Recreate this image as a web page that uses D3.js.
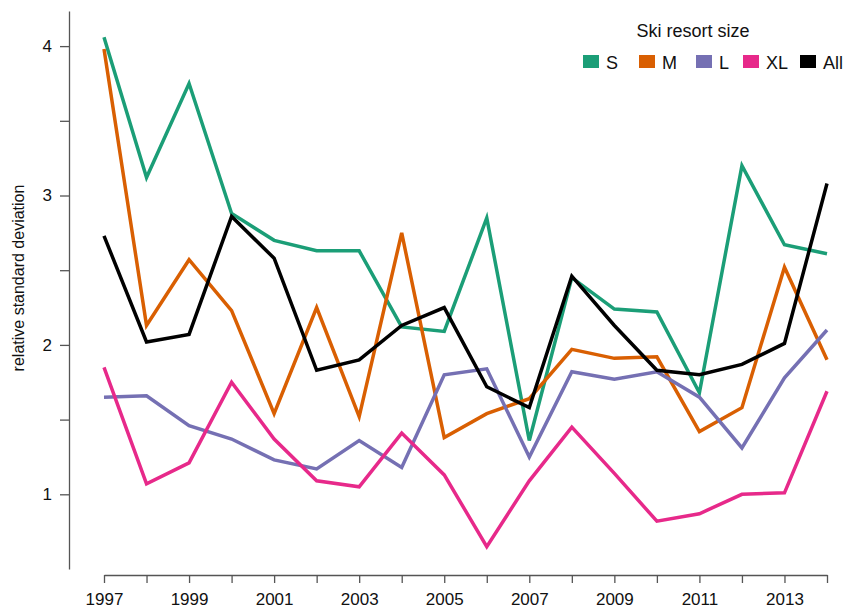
<!DOCTYPE html>
<html>
<head>
<meta charset="utf-8">
<script src="https://cdn.jsdelivr.net/npm/d3@7"></script>
<style>
  body { margin: 0; background: #fff; }
  svg { display: block; font-family: "Liberation Sans", Arial, sans-serif; }
</style>
</head>
<body>
<div id="chart"></div>
<script>
// Données
var years = [1997, 1998, 1999, 2000, 2001, 2002, 2003, 2004, 2005,
             2006, 2007, 2008, 2009, 2010, 2011, 2012, 2013, 2014];
var sizeS  = [4.06, 3.12, 3.75, 2.88, 2.70, 2.63, 2.63, 2.12, 2.09, 2.85, 1.36, 2.45, 2.24, 2.22, 1.68, 3.20, 2.67, 2.61];
var sizeM  = [3.98, 2.13, 2.57, 2.23, 1.54, 2.25, 1.52, 2.75, 1.38, 1.54, 1.64, 1.97, 1.91, 1.92, 1.42, 1.58, 2.52, 1.90];
var sizeL  = [1.65, 1.66, 1.46, 1.37, 1.23, 1.17, 1.36, 1.18, 1.80, 1.84, 1.25, 1.82, 1.77, 1.82, 1.65, 1.31, 1.78, 2.10];
var sizeXL = [1.85, 1.07, 1.21, 1.75, 1.37, 1.09, 1.05, 1.41, 1.13, 0.65, 1.09, 1.45, 1.14, 0.82, 0.87, 1.00, 1.01, 1.69];
var sizeAll= [2.73, 2.02, 2.07, 2.86, 2.58, 1.83, 1.90, 2.13, 2.25, 1.72, 1.58, 2.46, 2.13, 1.83, 1.80, 1.87, 2.01, 3.08];
var seriesNames = ["S", "M", "L", "XL", "All"];
var seriesColors = ["#1b9e77", "#d95f02", "#7570b3", "#e7298a", "#000000"];
var yTicks = [1, 1.5, 2, 2.5, 3, 3.5, 4];

var series = [sizeS, sizeM, sizeL, sizeXL, sizeAll];

var width = 844, height = 609;

var svg = d3.select("#chart")
  .append("svg")
    .attr("width", width)
    .attr("height", height);

// Echelles
var x = d3.scaleLinear()
  .domain([1997, 2014])
  .range([104, 827]);

var y = d3.scaleLinear()
  .domain([0.5, 4.235])
  .range([569, 11]);

// Axe des abscisses
var xAxis = svg.append("g")
  .attr("transform", "translate(0,575)")
  .call(d3.axisBottom(x)
    .tickValues(years)
    .tickSizeOuter(0)
    .tickSizeInner(8)
    .tickPadding(10)
    .tickFormat(function(d) { return d % 2 == 1 ? d : ""; }));
xAxis.selectAll("path, line").attr("stroke", "#555").attr("stroke-width", 1.3);
xAxis.selectAll("text").style("font-size", "17px").attr("fill", "#111");

// Axe des ordonnées
var yAxis = svg.append("g")
  .attr("transform", "translate(69,0)")
  .call(d3.axisLeft(y)
    .tickValues(yTicks)
    .tickSizeOuter(0)
    .tickSizeInner(9)
    .tickPadding(8)
    .tickFormat(function(d) { return d % 1 == 0 ? d : ""; }));
yAxis.selectAll("path, line").attr("stroke", "#555").attr("stroke-width", 1.3);
yAxis.selectAll("text").style("font-size", "17px").attr("fill", "#111");

svg.append("text")
  .attr("transform", "translate(24,278) rotate(-90)")
  .style("text-anchor", "middle")
  .style("font-size", "16px")
  .attr("fill", "#111")
  .text("relative standard deviation");

// Lignes
var line = d3.line()
  .x(function(d, i) { return x(years[i]); })
  .y(function(d) { return y(d); });

series.forEach(function(s, i) {
  svg.append("path")
    .datum(s)
    .attr("d", line)
    .attr("fill", "none")
    .attr("stroke", seriesColors[i])
    .attr("stroke-width", 3.5);
});

// Légende
svg.append("text")
  .attr("x", 693)
  .attr("y", 37)
  .style("text-anchor", "middle")
  .style("font-size", "18px")
  .attr("fill", "#111")
  .text("Ski resort size");

var legendX = [583, 639, 696, 743, 800];
var leg = svg.selectAll(".leg")
  .data(seriesNames)
  .enter()
  .append("g")
    .attr("class", "leg")
    .attr("transform", function(d, i) { return "translate(" + legendX[i] + ",55)"; });
leg.append("rect")
  .attr("width", 16)
  .attr("height", 13)
  .attr("fill", function(d, i) { return seriesColors[i]; });
leg.append("text")
  .attr("x", 23)
  .attr("y", 14)
  .style("font-size", "18px")
  .attr("fill", "#111")
  .text(function(d) { return d; });
</script>
</body>
</html>
